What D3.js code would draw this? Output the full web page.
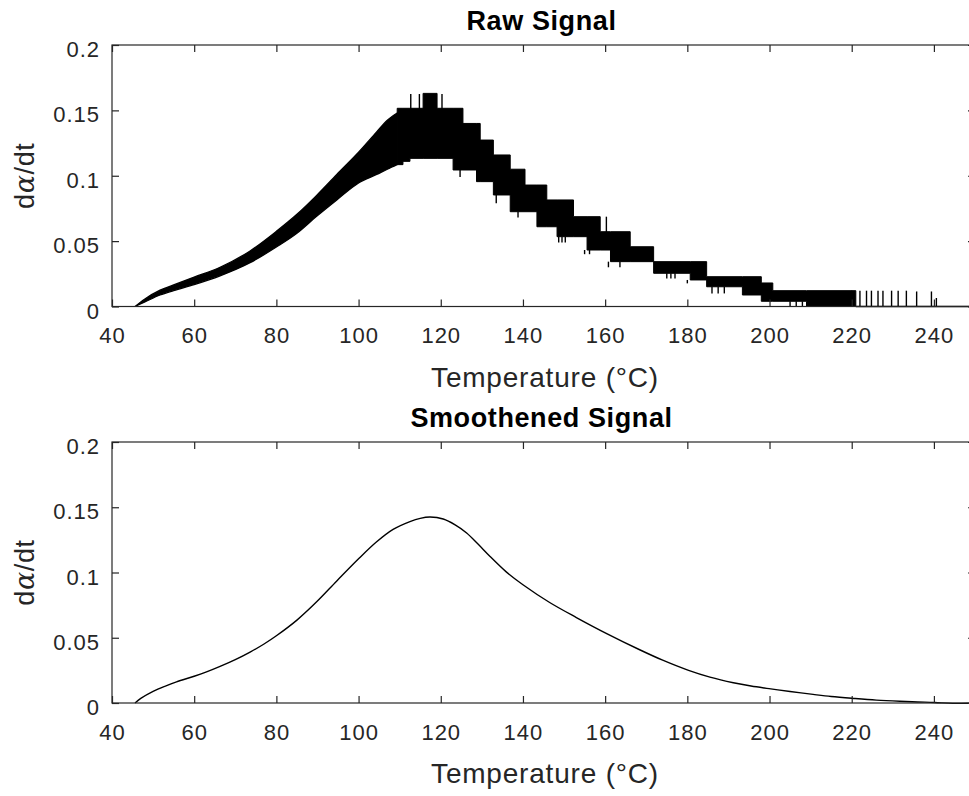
<!DOCTYPE html>
<html>
<head>
<meta charset="utf-8">
<script src="https://cdn.jsdelivr.net/npm/d3@7"></script>
<style>
  body { margin: 0; background: #fff; }
  svg { display: block; font-family: "Liberation Sans", Arial, sans-serif; }
</style>
</head>
<body>
<script>
// x ticks / y ticks
const xTicks = [40, 60, 80, 100, 120, 140, 160, 180, 200, 220, 240];
const yTicks = [0, 0.05, 0.1, 0.15, 0.2];

// raw signal: smooth part of the noise band (upper / lower edge)
const rawTemp = [45.6, 48, 51.7, 55, 60, 66.3, 73.6, 80, 85, 89.8, 94.7, 100, 104.4, 107, 109.4];
const rawHi   = [0, 0.0058, 0.0125, 0.0165, 0.0225, 0.0300, 0.0425, 0.0575, 0.0705, 0.0850, 0.1010, 0.1180, 0.1335, 0.1425, 0.1480];
const rawLo   = [0, 0.0035, 0.0088, 0.0122, 0.0168, 0.0235, 0.0335, 0.0455, 0.0560, 0.0690, 0.0815, 0.0945, 0.1010, 0.1050, 0.1085];

// raw signal: quantised part (levels hold until next temperature)
const stepTemp = [109.4, 110.8, 112.5, 115.7, 119.1, 123.0, 125.4, 128.7, 129.6, 132.8, 136.9, 140.5, 143.4, 145.8, 148.3, 152.3, 155.6, 158.8, 161.3, 166.1, 171.8, 180.7, 184.7, 193.4, 198.0, 200.8, 209.0, 221.0];
const stepHi   = [0.1516, 0.1516, 0.1516, 0.1630, 0.1516, 0.1516, 0.1400, 0.1400, 0.1273, 0.1159, 0.1050, 0.0929, 0.0929, 0.0815, 0.0815, 0.0687, 0.0687, 0.0572, 0.0572, 0.0457, 0.0343, 0.0343, 0.0228, 0.0228, 0.0180, 0.0121, 0.0121, 0.0121];
const stepLo   = [0.1085, 0.1110, 0.1133, 0.1133, 0.1133, 0.1044, 0.1044, 0.0955, 0.0955, 0.0853, 0.0725, 0.0725, 0.0610, 0.0610, 0.0534, 0.0534, 0.0432, 0.0432, 0.0343, 0.0343, 0.0254, 0.0203, 0.0151, 0.0088, 0.0040, 0.0040, 0, 0];

// raw signal: isolated spikes
const spikeTemp = [112.7, 114.8, 120.3, 124.7, 128.8, 129.3, 132.3, 133.5, 138.8, 148.7, 149.5, 150.3, 151.5, 155.0, 156.2, 160.3, 160.8, 163.6, 175.0, 176.0, 177.0, 180.0, 186.0, 187.5, 189.0, 205.0, 206.5, 208.0,
                   220.0, 222.0, 223.6, 224.8, 226.4, 227.6, 229.7, 231.3, 233.3, 235.8, 239.4, 240.6];
const spikeFrom = [0.150, 0.150, 0.150, 0.1044, 0.127, 0.127, 0.115, 0.0853, 0.0725, 0.0534, 0.0534, 0.0534, 0.068, 0.0432, 0.0432, 0.057, 0.0343, 0.0343, 0.0254, 0.0254, 0.0254, 0.0203, 0.0151, 0.0151, 0.0151, 0.004, 0.004, 0.004,
                   0, 0, 0, 0, 0, 0, 0, 0, 0, 0, 0, 0];
const spikeTo   = [0.1625, 0.1625, 0.1625, 0.0990, 0.140, 0.140, 0.1273, 0.0790, 0.0680, 0.0490, 0.0490, 0.0490, 0.0815, 0.0400, 0.0400, 0.0687, 0.0300, 0.0300, 0.0215, 0.0215, 0.0215, 0.0177, 0.0100, 0.0100, 0.0100, 0, 0, 0,
                   0.0121, 0.0121, 0.0121, 0.0121, 0.0121, 0.0121, 0.0121, 0.0121, 0.0121, 0.0115, 0.0115, 0.0065];

// smoothened signal
const smoothTemp = [45.6, 47, 50, 53, 55.7, 60, 63, 66.3, 70, 73.6, 77, 80, 85, 89.8, 94.7, 100, 104.4, 108.4, 112.5, 115, 117.4, 120.6, 123.5, 126.3, 129, 132, 136, 140, 146.5, 153, 160.5, 168.4, 174, 180.3, 185.5, 191.2, 195.5, 200.3, 205, 210.6, 215, 220.5, 226, 231.7, 236, 240.2, 244.6, 250];
const smoothVal  = [0, 0.0035, 0.0089, 0.0130, 0.0162, 0.0205, 0.0238, 0.0280, 0.0332, 0.0390, 0.0452, 0.0515, 0.0635, 0.0775, 0.0935, 0.1105, 0.1235, 0.1330, 0.1390, 0.1415, 0.1425, 0.1410, 0.1365, 0.1303, 0.1220, 0.1123, 0.1003, 0.0906, 0.0770, 0.0655, 0.0530, 0.0408, 0.0328, 0.0250, 0.0198, 0.0155, 0.0130, 0.0108, 0.0088, 0.0066, 0.0050, 0.0035, 0.0022, 0.0013, 0.0008, 0.0004, -0.0003, 0];

const W = 969, H = 796;
const left = 112, right = 975;
const panels = [
    { title: "Raw Signal", top: 45, bottom: 306.5 },
    { title: "Smoothened Signal", top: 442, bottom: 703 }
];
const axisColor = "#262626";

const svg = d3.select("body").append("svg")
    .attr("width", W)
    .attr("height", H);

const x = d3.scaleLinear().domain([40, 250]).range([left, right]);

function drawAxes(g, y, p) {
    g.append("rect")
        .attr("x", left).attr("y", p.top)
        .attr("width", right - left).attr("height", p.bottom - p.top)
        .attr("fill", "none").attr("stroke", axisColor).attr("stroke-width", 1.2);

    const xb = g.append("g")
        .attr("transform", `translate(0,${p.bottom})`)
        .call(d3.axisBottom(x).tickValues(xTicks).tickSize(-7).tickSizeOuter(0).tickPadding(21));
    const xt = g.append("g")
        .attr("transform", `translate(0,${p.top})`)
        .call(d3.axisTop(x).tickValues(xTicks).tickSize(-7).tickSizeOuter(0).tickFormat(""));
    const yl = g.append("g")
        .attr("transform", `translate(${left},0)`)
        .call(d3.axisLeft(y).tickValues(yTicks).tickSize(-7).tickSizeOuter(0).tickPadding(12).tickFormat(d => String(d)));
    const yr = g.append("g")
        .attr("transform", `translate(${right},0)`)
        .call(d3.axisRight(y).tickValues(yTicks).tickSize(-7).tickSizeOuter(0).tickFormat(""));

    [xb, xt, yl, yr].forEach(a => {
        a.select(".domain").remove();
        a.selectAll("line").attr("stroke", axisColor).attr("stroke-width", 1.2);
        a.selectAll("text")
            .attr("fill", axisColor)
            .style("font-size", "22px")
            .style("letter-spacing", "1px")
            .style("font-family", "'Liberation Sans', Arial, sans-serif");
    });
    yl.selectAll("text").attr("y", 4.5);

    g.append("text")
        .attr("x", (left + right) / 2 - 2)
        .attr("y", p.top - 15)
        .attr("text-anchor", "middle")
        .attr("font-weight", "bold")
        .attr("font-size", 27)
        .attr("letter-spacing", 0.6)
        .attr("fill", "#000")
        .text(p.title);

    g.append("text")
        .attr("x", 545)
        .attr("y", p.bottom + 80)
        .attr("text-anchor", "middle")
        .attr("font-size", 28)
        .attr("letter-spacing", 0.8)
        .attr("fill", axisColor)
        .text("Temperature (°C)");

    const yLab = g.append("text")
        .attr("transform", `translate(34,${(p.top + p.bottom) / 2}) rotate(-90)`)
        .attr("text-anchor", "middle")
        .attr("font-size", 27)
        .attr("letter-spacing", 0.6)
        .attr("fill", axisColor);
    yLab.append("tspan").text("d");
    yLab.append("tspan").attr("font-style", "italic").attr("font-family", "'DejaVu Serif', serif").text("α");
    yLab.append("tspan").text("/dt");
}

// top panel: raw signal
{
    const p = panels[0];
    const y = d3.scaleLinear().domain([0, 0.2]).range([p.bottom, p.top]);
    const g = svg.append("g");

    const band = rawTemp.map((t, i) => ({ t, hi: rawHi[i], lo: rawLo[i] }));
    const steps = stepTemp.map((t, i) => ({ t, hi: stepHi[i], lo: stepLo[i] }));

    g.append("path")
        .datum(band)
        .attr("d", d3.area().x(d => x(d.t)).y0(d => y(d.lo)).y1(d => y(d.hi)).curve(d3.curveMonotoneX))
        .attr("fill", "#000").attr("stroke", "#000").attr("stroke-width", 1.3);

    g.append("path")
        .datum(steps)
        .attr("d", d3.area().x(d => x(d.t)).y0(d => y(d.lo)).y1(d => y(d.hi)).curve(d3.curveStepAfter))
        .attr("fill", "#000").attr("stroke", "#000").attr("stroke-width", 1);

    g.selectAll(".spike")
        .data(spikeTemp.map((t, i) => ({ t, a: spikeFrom[i], b: spikeTo[i] })))
        .join("line")
        .attr("class", "spike")
        .attr("x1", d => x(d.t)).attr("x2", d => x(d.t))
        .attr("y1", d => y(d.a)).attr("y2", d => y(d.b))
        .attr("stroke", "#000").attr("stroke-width", 1.4);

    // flat tail at zero
    g.append("path")
        .datum([221, 250])
        .attr("d", d3.line().x(d => x(d)).y(() => y(0)))
        .attr("stroke", "#000").attr("stroke-width", 1.3);

    drawAxes(g, y, p);
}

// bottom panel: smoothened signal
{
    const p = panels[1];
    const y = d3.scaleLinear().domain([0, 0.2]).range([p.bottom, p.top]);
    const g = svg.append("g");

    g.append("path")
        .datum(smoothTemp.map((t, i) => ({ t, v: smoothVal[i] })))
        .attr("d", d3.line().x(d => x(d.t)).y(d => y(d.v)).curve(d3.curveCatmullRom.alpha(0.5)))
        .attr("fill", "none")
        .attr("stroke", "#000")
        .attr("stroke-width", 1.4);

    drawAxes(g, y, p);
}
</script>
</body>
</html>
